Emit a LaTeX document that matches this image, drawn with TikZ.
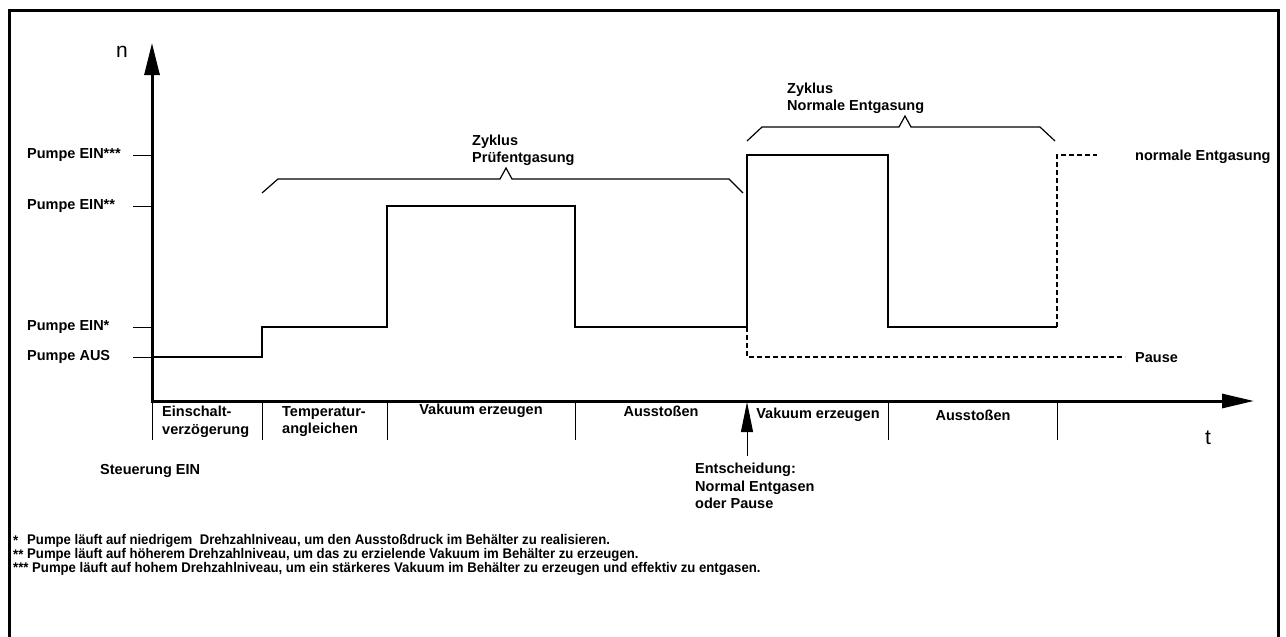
\documentclass[tikz,border=0pt]{standalone}
\usepackage{fontspec}
\setmainfont{Liberation Sans}
\usetikzlibrary{arrows.meta}
\tikzset{
  lbl/.style={font=\fontsize{14.5}{17.5}\selectfont\bfseries, inner sep=0pt},
  lblL/.style={lbl, anchor=west},
  axis/.style={line width=3pt},
  sig/.style={line width=2pt, line join=miter},
  brace/.style={line width=1.2pt},
  tickln/.style={line width=1pt},
  dashln/.style={line width=1.2pt, dash pattern=on 5pt off 3pt},
  foot/.style={font=\fontsize{14}{16}\selectfont\bfseries, inner sep=0pt, anchor=west, xscale=0.94},
}
\begin{document}
\begin{tikzpicture}[x=1pt,y=-1pt]
\useasboundingbox (0,0) rectangle (1286,637);
\begin{scope}
\clip (0,0) rectangle (1286,637);
\draw[line width=3pt] (9,10) rectangle (1278,660);
\end{scope}

% axes
\coordinate (O) at (152,401);
\coordinate (ytop) at (152,43);
\coordinate (xend) at (1254,401);
\draw[axis,-{Triangle[length=32pt,width=15pt]}] (O) -- (ytop);
\draw[axis,-{Triangle[length=32pt,width=14pt]}] (150.5,401) -- (xend);
\node[font=\fontsize{21}{23}\selectfont] (n) at (122,52) {n};
\node[font=\fontsize{21}{23}\selectfont] (t) at (1208,438) {t};

% y ticks and labels
\foreach \yy/\nm/\tx in {155/e3/{Pumpe EIN***},206/e2/{Pumpe EIN**},327/e1/{Pumpe EIN*},357/aus/{Pumpe AUS}}{
  \coordinate (t\nm) at (133,\yy);
  \draw[tickln] (t\nm) -- (152,\yy);
  \node[lblL] (l\nm) at (27,\yy) {\tx};
}

% signal
\coordinate (s0) at (152,357);
\coordinate (s1) at (262,357);
\coordinate (s2) at (262,327);
\coordinate (s3) at (387,327);
\coordinate (s4) at (387,206);
\coordinate (s5) at (575,206);
\coordinate (s6) at (575,327);
\coordinate (s7) at (747,327);
\coordinate (s8) at (747,155);
\coordinate (s9) at (888,155);
\coordinate (s10) at (888,327);
\coordinate (s11) at (1057,327);
\draw[sig] (s0) -- (s1) -- (s2) -- (s3) -- (s4) -- (s5) -- (s6) -- (s7) -- (s8) -- (s9) -- (s10) -- (s11);

% dashed alternatives
\coordinate (p1) at (747,357);
\coordinate (p2) at (1125,357);
\draw[dashln] (s7) -- (p1) -- (p2);
\node[lblL] (pause) at (1135,358) {Pause};
\coordinate (q1) at (1057,155);
\coordinate (q2) at (1097,155);
\draw[dashln] (s11) -- (q1) -- (q2);
\node[lblL] (normal) at (1135,157) {normale Entgasung};

% brackets
\draw[brace] (262,193) -- (278,179) -- (500,179) -- (506,168) -- (512,179) -- (729,179) -- (743,193);
\node[lbl, align=left, anchor=south west] (zyk1) at (472,166) {Zyklus\\Prüfentgasung};
\draw[brace] (747,141) -- (762,127) -- (899,127) -- (905,116) -- (911,127) -- (1040,127) -- (1055,141);
\node[lbl, align=left, anchor=south west] (zyk2) at (787,114) {Zyklus\\Normale Entgasung};

% section dividers
\foreach \xx in {152,262,387,575,888,1057}{
  \draw[tickln] (\xx,401) -- (\xx,440);
}
\node[lbl, align=left, anchor=north west] (ph1) at (162,406) {Einschalt-\\verzögerung};
\node[lbl, align=left, anchor=north west] (ph2) at (282,406) {Temperatur-\\angleichen};
\node[lbl] (ph3) at (481,411) {Vakuum erzeugen};
\node[lbl] (ph4) at (661,411) {Ausstoßen};
\node[lbl] (ph5) at (818,415) {Vakuum erzeugen};
\node[lbl] (ph6) at (973,415) {Ausstoßen};

% decision arrow
\coordinate (d0) at (747,456);
\draw[line width=1pt,-{Triangle[length=30pt,width=12pt]}] (d0) -- (747,402);
\node[lbl, align=left, anchor=north west] (dec) at (695,463) {Entscheidung:\\Normal Entgasen\\oder Pause};
\node[lblL] (steu) at (100,471) {Steuerung EIN};

% footnotes
\node[foot] (f1s) at (13,541) {*};
\node[foot] (f1) at (27,541) {Pumpe läuft auf niedrigem\ \ Drehzahlniveau, um den Ausstoßdruck im Behälter zu realisieren.};
\node[foot] (f2s) at (13,555) {**};
\node[foot] (f2) at (27,555) {Pumpe läuft auf höherem Drehzahlniveau, um das zu erzielende Vakuum im Behälter zu erzeugen.};
\node[foot] (f3) at (13,569) {*** Pumpe läuft auf hohem Drehzahlniveau, um ein stärkeres Vakuum im Behälter zu erzeugen und effektiv zu entgasen.};
\end{tikzpicture}
\end{document}
